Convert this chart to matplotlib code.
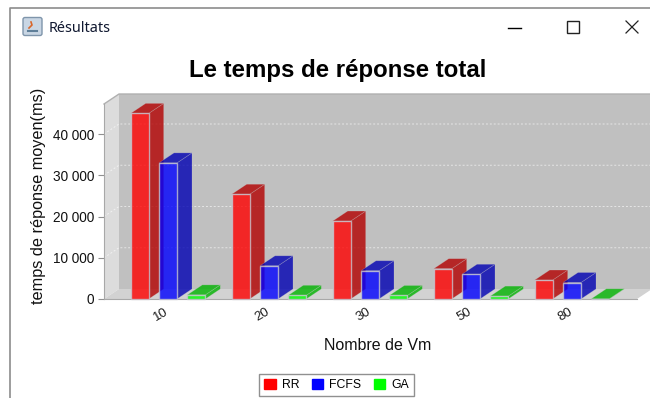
#!/usr/bin/env python3
"""Bar chart with fake 3D depth, inside a small Java window frame"""
import matplotlib
matplotlib.use('Agg')
import matplotlib.pyplot as plt
from matplotlib.patches import Patch, Rectangle, FancyBboxPatch
import numpy as np

# Data
categories = ['10', '20', '30', '50', '80']
rr = [45000, 25400, 18900, 7350, 4600]
fcfs = [33000, 8050, 6850, 6000, 4000]
ga = [1000, 900, 850, 700, 50]
y_ticks = [0, 10000, 20000, 30000, 40000]
y_labels = ['0', '10 000', '20 000', '30 000', '40 000']

plt.rcParams['font.family'] = ['Liberation Sans', 'DejaVu Sans']

W, H = 650, 398
fig = plt.figure(figsize=(W / 100, H / 100), dpi=100, facecolor='white')

# Window frame, in pixel coordinates
chrome = fig.add_axes([0, 0, 1, 1])
chrome.set_xlim(0, W)
chrome.set_ylim(H, 0)
chrome.axis('off')
chrome.plot([10, 10, 650], [398, 7.5, 7.5], color='#8c8c8c', lw=1.2)
chrome.add_patch(FancyBboxPatch((23, 17.5), 19, 18, boxstyle='round,pad=0,rounding_size=2',
                                fc='#c9d6e4', ec='#7f95ab', lw=1))
chrome.plot([28, 37], [31, 31], color='#5f7f99', lw=1.5)
chrome.plot([29, 32, 31], [28, 25, 22], color='#d9662b', lw=1.2)
chrome.text(49, 28, 'Résultats', fontsize=10.4, family=['Noto Sans', 'DejaVu Sans'],
            color='#101830', va='center')
chrome.plot([508, 521], [27.5, 27.5], color='black', lw=1)
chrome.add_patch(Rectangle((566.5, 21), 12, 12, fc='none', ec='#222222', lw=1))
chrome.plot([626, 638], [21, 33], color='#222222', lw=0.9)
chrome.plot([626, 638], [33, 21], color='#222222', lw=0.9)

# Front plane of the plot
left, right, top, bottom = 104, 637, 104, 299
ax = fig.add_axes([left / W, 1 - bottom / H, (right - left) / W, (bottom - top) / H])
ax.patch.set_visible(False)
x_min, x_max = (left - 168) / 101, (right - 168) / 101
y_max = (bottom - top) / 0.004125
ax.set_xlim(x_min, x_max)
ax.set_ylim(0, y_max)

# Depth offset, 15 px across and 10 px up, in data units
dx = 15 / 101
dy = 10 / 0.004125

# Walls and floor
ax.fill([x_min, x_min + dx, x_min + dx, x_min], [0, dy, y_max + dy, y_max],
        color='#dcdcdc', clip_on=False, lw=0, zorder=1)
ax.fill([x_min + dx, x_max + dx, x_max + dx, x_min + dx], [dy, dy, y_max + dy, y_max + dy],
        color='#c0c0c0', clip_on=False, lw=0, zorder=1)
ax.fill([x_min, x_max, x_max + dx, x_min + dx], [0, 0, dy, dy],
        color='#d2d2d2', clip_on=False, lw=0, zorder=1)
ax.plot([x_min, x_min + dx, x_max + dx], [y_max, y_max + dy, y_max + dy],
        color='#b0b0b0', lw=1, clip_on=False, zorder=1)

# Grid lines on the walls
for v in y_ticks[1:]:
    ax.plot([x_min, x_min + dx, x_max + dx], [v, v + dy, v + dy], color='white', lw=0.7,
            ls=(0, (2, 2)), alpha=0.6, clip_on=False, zorder=2)

bar_w = 18 / 101
pitch = 28.3 / 101
x = np.arange(len(categories))
series = [('RR', rr, (1, 0, 0), (0.7, 0, 0)),
          ('FCFS', fcfs, (0, 0, 1), (0, 0, 0.7)),
          ('GA', ga, (0, 1, 0), (0, 0.7, 0))]
edge = (0.78, 0.78, 0.82, 0.8)
faint = (0.8, 0.8, 0.8, 0.3)

z = 3
for i in x:
    for j, (name, vals, front, dark) in enumerate(series):
        x0 = i + (j - 1) * pitch - bar_w / 2
        x1 = x0 + bar_w
        v = vals[i]
        # side and top faces first, then the front
        ax.fill([x1, x1 + dx, x1 + dx, x1], [0, dy, v + dy, v], fc=dark + (0.8,), ec=faint,
                lw=0.5, clip_on=False, zorder=z)
        ax.fill([x0, x1, x1 + dx, x0 + dx], [v, v, v + dy, v + dy], fc=dark + (0.8,), ec=faint,
                lw=0.5, clip_on=False, zorder=z)
        ax.bar(x0 + bar_w / 2, v, bar_w, color=front + (0.8,), edgecolor=edge, linewidth=1,
               clip_on=False, zorder=z + 1)
        z += 2

# Axes
for s in ['top', 'right']:
    ax.spines[s].set_visible(False)
for s in ['left', 'bottom']:
    ax.spines[s].set_color('#a8a8a8')
    ax.spines[s].set_zorder(2)
ax.set_yticks(y_ticks)
ax.set_yticklabels(y_labels, fontsize=9.8, color='#111111')
ax.tick_params(axis='y', length=4, width=0.8, color='#909090', pad=3)
ax.set_xticks(x - 0.07)
ax.set_xticklabels(categories, fontsize=9.5, rotation=30, color='#202020')
ax.tick_params(axis='x', length=0, pad=5)

fig.text(337.5 / W, 1 - 70 / H, 'Le temps de réponse total', fontsize=17.3, fontweight='bold',
         ha='center', va='center')
fig.text(38.5 / W, 1 - 196 / H, 'temps de réponse moyen(ms)', fontsize=11.7, rotation=90,
         ha='center', va='center', color='#111111')
fig.text(378 / W, 1 - 345 / H, 'Nombre de Vm', fontsize=11.5, ha='center', va='center',
         color='#111111')

handles = [Patch(color=s[2], label=s[0]) for s in series]
ax.legend(handles=handles, ncol=3, loc='center', bbox_to_anchor=((336.5 - left) / (right - left), (bottom - 385) / (bottom - top)),
          fontsize=8.8, fancybox=False, framealpha=1, edgecolor='#909090', borderpad=0.4,
          handlelength=0.95, handleheight=0.95, handletextpad=0.5, columnspacing=1.0, borderaxespad=0)

fig.savefig('out.png', dpi=100)
